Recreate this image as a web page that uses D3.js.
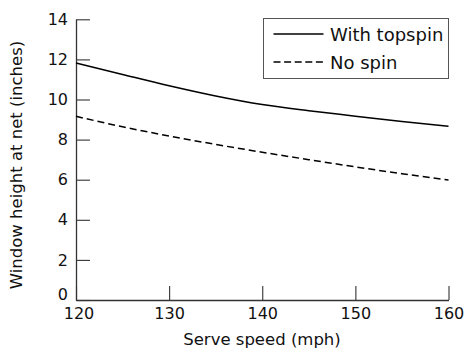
<!DOCTYPE html>
<html>
<head>
<meta charset="utf-8">
<script src="https://cdn.jsdelivr.net/npm/d3@7"></script>
<style>
  html, body { margin: 0; padding: 0; background: #fff; }
  svg { display: block; }
  text { font-family: "DejaVu Sans", sans-serif; fill: #111; }
</style>
</head>
<body>
<svg id="chart" width="466" height="354"></svg>
<script>
const speeds = [120, 125, 130, 135, 140, 145, 150, 155, 160];
const withTopspin = [11.82, 11.25, 10.69, 10.18, 9.75, 9.44, 9.17, 8.9, 8.67];
const noSpin = [9.16, 8.64, 8.18, 7.76, 7.37, 7.0, 6.64, 6.3, 5.98];
const xTicks = [120, 130, 140, 150, 160];
const yTicks = [0, 2, 4, 6, 8, 10, 12, 14];
const seriesNames = ["With topspin", "No spin"];
const xTitle = "Serve speed (mph)";
const yTitle = "Window height at net (inches)";

const svg = d3.select("#chart");
const x = d3.scaleLinear().domain([120, 160]).range([76, 448.5]);
const y = d3.scaleLinear().domain([0, 14]).range([300, 19.3]);
const axisColor = "#333";

// Y axis
const gy = svg.append("g").attr("transform", `translate(${x(120)},0)`)
  .call(d3.axisLeft(y).tickValues(yTicks).tickSizeInner(-14).tickSizeOuter(0).tickPadding(8));
// X axis
const gx = svg.append("g").attr("transform", `translate(0,${y(0)})`)
  .call(d3.axisBottom(x).tickValues(xTicks).tickSizeInner(-14).tickSizeOuter(0).tickPadding(8));

[gx, gy].forEach(g => {
  g.selectAll(".domain").attr("stroke", axisColor).attr("stroke-width", 1.3);
  g.selectAll(".tick line").attr("stroke", axisColor).attr("stroke-width", 1.1);
  g.selectAll(".tick text").attr("font-family", "DejaVu Sans, sans-serif")
    .attr("font-size", 16).attr("fill", "#111");
});
gy.selectAll(".tick text").filter(d => d === 0).attr("y", -6);
gx.selectAll(".tick text").filter(d => d === 120).attr("x", 2.5);

// Lines
const line = d3.line().x((d, i) => x(speeds[i])).y(d => y(d)).curve(d3.curveMonotoneX);
svg.append("path").datum(withTopspin).attr("d", line)
  .attr("fill", "none").attr("stroke", "#000").attr("stroke-width", 1.5);
svg.append("path").datum(noSpin).attr("d", line)
  .attr("fill", "none").attr("stroke", "#000").attr("stroke-width", 1.5)
  .attr("stroke-dasharray", "7,4");

// Legend
const lg = svg.append("g");
lg.append("rect").attr("x", 263.5).attr("y", 18.5).attr("width", 185).attr("height", 60)
  .attr("fill", "#fff").attr("stroke", "#555").attr("stroke-width", 1);
const legendRows = [{ y: 34, dash: null }, { y: 62, dash: "7,3.6" }];
legendRows.forEach((r, i) => {
  lg.append("line").attr("x1", 273.5).attr("x2", 323.5).attr("y1", r.y).attr("y2", r.y)
    .attr("stroke", "#000").attr("stroke-width", 1.3)
    .attr("stroke-dasharray", r.dash);
  lg.append("text").attr("x", 330).attr("y", r.y + 6.8)
    .attr("font-size", 18).text(seriesNames[i]);
});

// Axis titles
svg.append("text").attr("x", 262).attr("y", 345).attr("text-anchor", "middle")
  .attr("font-size", 16.5).text(xTitle);
svg.append("text").attr("transform", "translate(22,165) rotate(-90)")
  .attr("text-anchor", "middle").attr("font-size", 16.5).text(yTitle);
</script>
</body>
</html>
